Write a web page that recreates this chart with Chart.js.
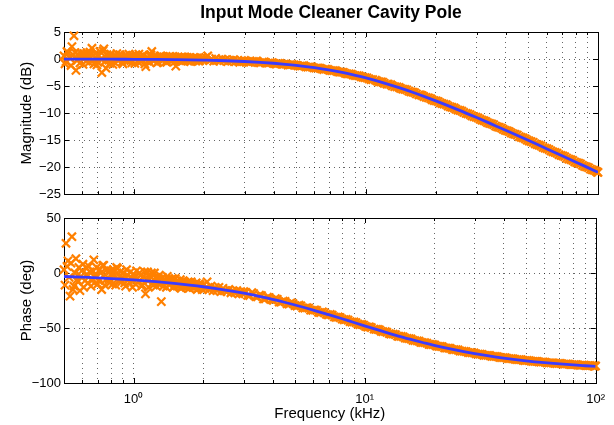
<!DOCTYPE html>
<html><head><meta charset="utf-8">
<script src="https://cdn.jsdelivr.net/npm/chart.js@4.4.0/dist/chart.umd.min.js"></script>
<style>
html,body{margin:0;padding:0;background:#fff;}
#wrap{position:relative;width:614px;height:425px;overflow:hidden;}
#c1{position:absolute;left:0;top:0;}
#c2{position:absolute;left:0;top:205px;}
</style></head><body>
<div id="wrap"><canvas id="c1" width="614" height="205"></canvas><canvas id="c2" width="614" height="220"></canvas></div>
<script>
const chartTitle = 'Input Mode Cleaner Cavity Pole';
const magLabel = 'Magnitude (dB)';
const phaseLabel = 'Phase (deg)';
const freqLabel = 'Frequency (kHz)';

// measured transfer function (kHz, dB, deg)
const measFreq = [
0.500,0.510,0.520,0.531,0.541,0.552,0.563,0.574,0.586,0.598,
0.609,0.622,0.634,0.647,0.660,0.673,0.686,0.700,0.714,0.728,
0.743,0.758,0.773,0.788,0.804,0.820,0.837,0.853,0.871,0.888,
0.906,0.924,0.942,0.961,0.980,1.000,1.020,1.040,1.061,1.082,
1.104,1.126,1.149,1.172,1.195,1.219,1.243,1.268,1.294,1.319,
1.346,1.373,1.400,1.428,1.457,1.486,1.516,1.546,1.577,1.608,
1.641,1.673,1.707,1.741,1.776,1.811,1.848,1.885,1.922,1.961,
2.000,2.040,2.081,2.122,2.165,2.208,2.252,2.297,2.343,2.390,
2.438,2.487,2.536,2.587,2.639,2.692,2.745,2.800,2.856,2.913,
2.972,
3.00,3.12,3.25,3.38,3.51,3.65,3.80,3.95,4.11,4.27,
4.44,4.62,4.80,5.00,5.20,5.40,5.62,5.84,6.08,6.32,
6.57,6.84,7.11,7.40,7.69,8.00,8.32,8.65,9.00,9.36,
9.73,10.1,10.5,11.0,11.4,11.8,12.3,12.8,13.3,13.9,
14.4,15.0,15.6,16.2,16.9,17.5,18.2,19.0,19.7,20.5,
21.3,22.2,23.1,24.0,24.9,25.9,27.0,28.1,29.2,30.4,
31.6,32.8,34.1,35.5,36.9,38.4,39.9,41.5,43.2,44.9,
46.7,48.6,50.5,52.6,54.7,56.8,59.1,61.5,63.9,66.5,
69.2,71.9,74.8,77.8,80.9,84.1,87.5,91.0,94.6,98.4,
100,
0.505,0.515,0.526,0.536,0.547,0.558,0.569,0.580,0.592,0.604,
0.616,0.628,0.641,0.654,0.667,0.680,0.693,0.707,0.721,0.736,
0.751,0.766,0.781,0.796,0.812,0.829,0.845,0.862,0.880,0.897,
0.915,0.933,0.952,0.971,0.990,1.010,1.030,1.051,1.072,1.093,
1.115,1.138,1.161,1.184,1.207,1.231,1.256,1.281,1.307,1.333,
1.360,1.387,1.414,1.443,1.472,1.501,1.531,1.562,1.593,1.625,
1.657,1.690,1.724,1.759,1.794,1.830,1.867,1.904,1.942,1.981,
3.06,3.18,3.31,3.44,3.58,3.72,3.87,4.03,4.19,4.35,
4.53,4.71,4.90,5.10,5.30,5.51,5.73,5.96,6.20,6.44,
6.70,6.97,7.25,7.54,7.84,8.16,8.48,8.82,9.18,9.54,
9.91,10.3,10.7,11.2,11.6,12.0,12.5,13.0,13.6,14.1,
14.7,15.3,15.9,16.5,17.2,17.8,18.6,19.3,20.1,20.9,
21.7,22.6,23.5,24.4,25.4,26.4,27.5,28.6,29.8,31.0,
32.2,33.4,34.8,36.2,37.6,39.1,40.7,42.3,44.0,45.8,
47.6,49.5,51.5,53.6,55.7,57.9,60.3,62.7,65.2,67.8,
70.5,73.3,76.3,79.3,82.5,85.8,89.2,92.8,96.5,99.2
];
const measMag = [
0.6,-0.5,1.1,0.2,2.3,4.3,-2.1,0.9,-0.7,0.4,
1.0,-0.4,0.7,1.3,2.0,-0.9,0.3,-0.6,1.4,-2.5,
1.9,-1.7,0.5,-0.8,0.2,-0.5,0.6,-0.3,0.8,-0.6,
0.1,0.7,-0.4,0.5,-0.7,0.3,0.8,-0.5,0.4,-0.3,
0.6,-1.4,0.2,0.7,1.4,-0.4,0.3,-0.6,0.5,-0.2,
0.4,-0.5,0.2,0.5,-0.4,0.1,-1.3,0.3,-0.3,0.4,
-0.2,0.2,-0.4,0.3,-0.1,0.3,-0.4,0.1,-0.3,0.2,
-0.1,0.3,0.6,-0.3,0.0,-0.4,0.1,-0.2,-0.4,0.0,
-0.3,-0.1,-0.5,-0.2,-0.4,-0.1,-0.5,-0.3,-0.6,-0.3,
-0.5,
-0.26,-0.64,-0.43,-0.35,-0.72,-0.51,-0.76,-0.65,-0.94,-0.80,
-0.95,-1.12,-0.99,-1.12,-1.33,-1.24,-1.49,-1.45,-1.68,-1.67,
-1.94,-1.92,-2.15,-2.16,-2.44,-2.48,-2.75,-2.78,-3.05,-3.11,
-3.41,-3.48,-3.79,-3.92,-4.21,-4.28,-4.62,-4.75,-5.09,-5.26,
-5.56,-5.71,-6.07,-6.22,-6.61,-6.75,-7.11,-7.32,-7.68,-7.88,
-8.24,-8.45,-8.84,-9.04,-9.43,-9.64,-10.04,-10.26,-10.66,-10.90,
-11.30,-11.51,-11.90,-12.14,-12.55,-12.79,-13.20,-13.44,-13.85,-14.08,
-14.50,-14.75,-15.16,-15.41,-15.83,-16.07,-16.49,-16.74,-17.15,-17.41,
-17.83,-18.07,-18.50,-18.75,-19.17,-19.41,-19.84,-20.10,-20.51,-20.76,
-20.97,
-0.9,1.4,0.3,-1.2,0.8,1.2,-0.3,0.5,1.1,-1.0,
0.2,1.2,-0.6,0.9,-0.2,1.0,-1.1,0.6,0.0,1.5,
-0.4,0.8,-0.2,0.9,-1.0,0.4,1.0,-0.2,0.5,-0.9,
0.6,-0.1,0.9,-0.3,0.6,-0.8,0.5,0.9,-0.4,0.7,
-0.9,0.3,-0.5,0.8,-0.2,0.5,-0.7,0.2,0.6,-0.3,
0.3,-0.6,0.4,-0.2,0.5,-0.5,0.2,-0.3,0.3,-0.4,
0.4,-0.1,0.2,-0.5,0.1,-0.2,0.2,-0.4,0.0,-0.2,
-0.42,-0.56,-0.50,-0.66,-0.58,-0.74,-0.68,-0.84,-0.80,-0.96,
-0.94,-1.10,-1.08,-1.26,-1.25,-1.43,-1.44,-1.62,-1.65,-1.84,
-1.88,-2.08,-2.14,-2.35,-2.42,-2.65,-2.73,-2.97,-3.07,-3.31,
-3.42,-3.68,-3.82,-4.10,-4.22,-4.50,-4.66,-4.96,-5.13,-5.44,
-5.61,-5.94,-6.12,-6.46,-6.65,-6.97,-7.19,-7.54,-7.74,-8.10,
-8.32,-8.69,-8.92,-9.27,-9.50,-9.88,-10.13,-10.51,-10.75,-11.13,
-11.37,-11.75,-12.00,-12.39,-12.64,-13.03,-13.28,-13.68,-13.94,-14.34,
-14.60,-15.00,-15.26,-15.67,-15.92,-16.32,-16.59,-16.99,-17.25,-17.66,
-17.92,-18.33,-18.59,-19.00,-19.26,-19.67,-19.94,-20.35,-20.61,-20.90
];
const measPhase = [
3,27,11,-21,33,-12,13,-8,-16,2,
-13,5,-9,1,-7,12,-2,-10,3,-15,
7,-6,1,-9,-1,3,-11,4,-3,-8,
0,-12,-2,-9,-4,-1,-10,-5,0,-12,
-3,-19,1,-6,0,-11,-4,-9,-2,-26,
-12,-6,-3,-11,-7,-13,-5,-12,-8,-14,
-7,-12,-9,-14,-8,-13,-10,-15,-10,-13,
-11,-14,-8,-15,-12,-16,-13,-16,-13,-17,
-14,-16,-17,-15,-18,-16,-18,-16,-19,-17,
-19,
-16.9,-20.3,-17.9,-21.4,-20.1,-23.6,-22.0,-24.3,-23.3,-26.4,
-25.6,-28.1,-27.1,-29.6,-29.2,-31.7,-31.4,-33.8,-33.5,-35.7,
-35.4,-37.6,-37.7,-39.9,-40.0,-42.0,-42.2,-44.2,-44.5,-46.5,
-46.8,-48.6,-48.9,-51.1,-51.3,-53.0,-53.3,-55.2,-55.5,-57.4,
-57.6,-59.3,-59.6,-61.2,-61.6,-63.1,-63.3,-64.9,-65.0,-66.5,
-66.7,-68.1,-68.3,-69.6,-69.7,-71.0,-71.2,-72.3,-72.5,-73.6,
-73.7,-74.8,-74.8,-75.9,-75.9,-76.8,-76.9,-77.7,-77.8,-78.6,
-78.7,-79.4,-79.5,-80.2,-80.3,-80.9,-80.9,-81.6,-81.6,-82.1,
-82.2,-82.7,-82.7,-83.2,-83.3,-83.7,-83.7,-84.2,-84.2,-84.6,
-84.5,
-11,6,-4,9,-15,0,-6,5,-3,8,
-7,-1,6,-12,2,-4,5,-7,0,7,
-11,3,-5,2,-10,-2,5,-7,1,-4,
-9,3,-6,1,-13,-3,2,-8,-2,-11,
1,-6,-13,-3,-9,0,-12,-5,-10,-4,
-8,-13,-6,-10,-5,-12,-8,-11,-6,-12,
-9,-13,-8,-12,-10,-13,-9,-14,-11,-15,
-17.6,-20.5,-18.7,-21.8,-20.5,-23.5,-22.3,-24.9,-24.0,-26.5,
-25.9,-28.2,-27.9,-30.0,-29.9,-32.0,-31.9,-33.9,-34.0,-36.0,
-36.2,-38.1,-38.4,-40.3,-40.6,-42.5,-42.8,-44.6,-45.1,-46.9,
-47.3,-49.1,-49.6,-51.3,-51.7,-53.3,-53.9,-55.5,-56.0,-57.6,
-58.0,-59.5,-60.0,-61.4,-61.9,-63.2,-63.7,-65.0,-65.4,-66.6,
-67.0,-68.2,-68.6,-69.7,-70.0,-71.1,-71.4,-72.4,-72.7,-73.7,
-73.9,-74.8,-75.0,-75.9,-76.1,-76.9,-77.0,-77.9,-78.0,-78.8,
-78.8,-79.6,-79.6,-80.4,-80.3,-81.0,-81.0,-81.7,-81.6,-82.3,
-82.2,-82.9,-82.8,-83.4,-83.3,-83.9,-83.7,-84.3,-84.2,-84.7
];

// fitted single-pole model
const fitFreq = [0.5,0.6,0.7,0.8,0.9,1,1.25,1.5,1.75,2,2.5,3,3.5,4,4.5,5,6,7,8,9,10,12,14,16,18,20,25,30,35,40,50,60,70,80,90,100];
const fitMag = [-0.01,-0.02,-0.03,-0.03,-0.04,-0.05,-0.08,-0.12,-0.16,-0.21,-0.32,-0.46,-0.61,-0.78,-0.97,-1.17,-1.60,-2.06,-2.53,-3.01,-3.49,-4.44,-5.34,-6.19,-6.99,-7.74,-9.40,-10.83,-12.08,-13.17,-15.03,-16.58,-17.89,-19.03,-20.04,-20.95];
const fitPhase = [-3.2,-3.8,-4.4,-5.1,-5.7,-6.3,-7.9,-9.5,-11.0,-12.5,-15.5,-18.4,-21.3,-24.0,-26.6,-29.1,-33.7,-37.9,-41.6,-45.0,-48.0,-53.1,-57.3,-60.6,-63.4,-65.8,-70.2,-73.3,-75.6,-77.3,-79.8,-81.5,-82.7,-83.6,-84.3,-84.9];

// axes
const xGridTicks = [0.5,0.6,0.7,0.8,0.9,1,2,3,4,5,6,7,8,9,10,20,30,40,50,60,70,80,90,100];
const xMajorTicks = [1,10,100];
const xTickLabels = ['10\u2070','10\u00B9','10\u00B2'];
const magRange = [-25, 5, 5];
const phaseRange = [-100, 50, 50];

const FONT = "'Liberation Sans', Arial, Helvetica, sans-serif";
const ORANGE = 'rgb(255,128,0)';
const BLUE = 'rgb(60,60,255)';

function pts(xs, ys){ return xs.map((x,i)=>({x:x, y:ys[i]})); }

const framePlugin = {
  id:'frame',
  beforeDatasetsDraw(chart){
    const {ctx, chartArea:a, scales} = chart;
    ctx.save();
    ctx.strokeStyle = '#000';
    ctx.lineWidth = 1;
    ctx.strokeRect(Math.round(a.left)+0.5, Math.round(a.top)+0.5, Math.round(a.right-a.left), Math.round(a.bottom-a.top));
    ctx.beginPath();
    xGridTicks.forEach(v=>{
      const px = Math.round(scales.x.getPixelForValue(v))+0.5;
      const len = xMajorTicks.includes(v) ? 5 : 3;
      ctx.moveTo(px, a.bottom); ctx.lineTo(px, a.bottom-len);
      ctx.moveTo(px, a.top); ctx.lineTo(px, a.top+len);
    });
    scales.y.ticks.forEach(t=>{
      const py = Math.round(scales.y.getPixelForValue(t.value))+0.5;
      ctx.moveTo(a.left, py); ctx.lineTo(a.left+5, py);
      ctx.moveTo(a.right, py); ctx.lineTo(a.right-5, py);
    });
    ctx.stroke();
    ctx.restore();
  }
};

const titlePlugin = {
  id:'maintitle',
  afterDraw(chart){
    const {ctx, chartArea:a} = chart;
    ctx.save();
    ctx.font = 'bold 17.5px ' + FONT;
    ctx.fillStyle = '#000';
    ctx.textAlign = 'center';
    ctx.textBaseline = 'middle';
    ctx.fillText(chartTitle, (a.left+a.right)/2, 13);
    ctx.restore();
  }
};

function xScale(showLabels, height){
  return {
    type:'logarithmic', min:0.5, max:100,
    afterBuildTicks: s => { s.ticks = xGridTicks.map(v=>({value:v})); },
    afterFit: s => { s.height = height; },
    ticks:{
      display: showLabels, autoSkip:false, maxRotation:0, minRotation:0,
      color:'#000', font:{family:FONT, size:13}, padding:9,
      callback: v => { const i = xMajorTicks.indexOf(v); return i >= 0 ? xTickLabels[i] : ''; }
    },
    grid:{ color:'rgba(0,0,0,0.6)', lineWidth:1, drawTicks:false },
    border:{ display:false, dash:[1,4] },
    title:{ display: showLabels, text: freqLabel, color:'#000', font:{family:FONT, size:15}, padding:{top:0,bottom:2} }
  };
}
function yScale(range, label){
  return {
    type:'linear', min:range[0], max:range[1],
    afterFit: s => { s.width = 64; },
    ticks:{ stepSize:range[2], color:'#000', font:{family:FONT, size:13}, padding:3,
      callback: v => String(v).replace('-', '\u2212') },
    grid:{ color:'rgba(0,0,0,0.6)', lineWidth:1, drawTicks:false },
    border:{ display:false, dash:[1,4] },
    title:{ display:true, text:label, color:'#000', font:{family:FONT, size:15}, padding:{top:18,bottom:0} }
  };
}

function makeChart(id, measY, fitY, range, label, showX, xHeight, padTop, extraPlugins){
  return new Chart(document.getElementById(id), {
    type:'scatter',
    data:{ datasets:[
      { label:'fit', data: pts(fitFreq, fitY), showLine:true, borderColor:BLUE, backgroundColor:BLUE,
        borderWidth:2.8, pointRadius:0, cubicInterpolationMode:'monotone', order:0 },
      { label:'measured', data: pts(measFreq, measY), showLine:false, pointStyle:'crossRot',
        pointRadius:5.8, pointBorderWidth:2.2, borderColor:ORANGE, backgroundColor:ORANGE, clip:false, order:1 }
    ]},
    options:{
      responsive:false, animation:false,
      layout:{ padding:{ top:padTop, right:16, left:0, bottom:0 } },
      plugins:{ legend:{display:false}, tooltip:{enabled:false}, title:{display:false} },
      scales:{ x: xScale(showX, xHeight), y: yScale(range, label) }
    },
    plugins:[framePlugin].concat(extraPlugins)
  });
}

makeChart('c1', measMag, fitMag, magRange, magLabel, false, 8, 32, [titlePlugin]);
makeChart('c2', measPhase, fitPhase, phaseRange, phaseLabel, true, 42, 13, []);
</script>
</body></html>
